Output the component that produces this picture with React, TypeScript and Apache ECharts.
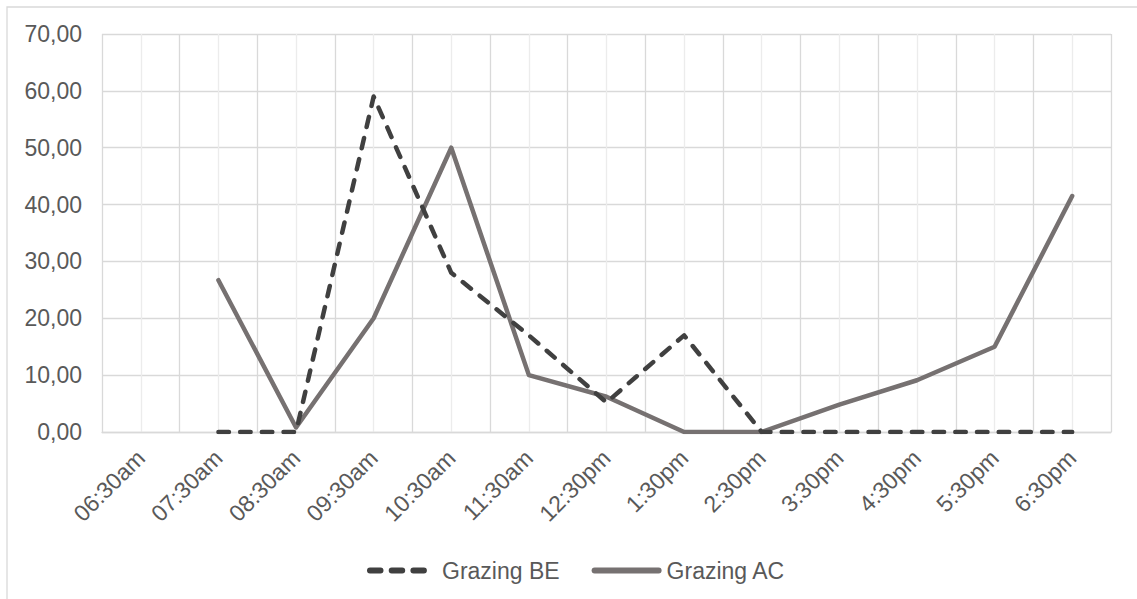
import React, { useEffect, useRef } from "react";
import * as echarts from "echarts";

// Time slots along the x axis
const timeSlots = [
  "06:30am", "07:30am", "08:30am", "09:30am", "10:30am", "11:30am",
  "12:30pm", "1:30pm", "2:30pm", "3:30pm", "4:30pm", "5:30pm", "6:30pm",
];

// Grazing observations per slot (no reading at 06:30am)
const grazingBE = [null, 0, 0, 59, 28, 17, 5.2, 17, 0, 0, 0, 0, 0];
const grazingAC = [null, 26.7, 0.8, 20, 50, 10, 6.2, 0, 0, 4.8, 9.1, 15, 41.5];

// Value axis range
const yMin = 0;
const yMax = 70;
const yStep = 10;

const FONT = "'Liberation Sans', Arial, sans-serif";
const FONT_SIZE = 23;
const LABEL_COLOR = "#595959";
const GRID_MAJOR = "#d9d9d9";
const GRID_MINOR = "#ececec";

export default function App() {
  const ref = useRef<HTMLDivElement>(null);

  useEffect(() => {
    if (!ref.current) return;
    const chart = echarts.init(ref.current, undefined, { renderer: "svg" });
    chart.setOption({
      animation: false,
      backgroundColor: "#ffffff",
      textStyle: { fontFamily: FONT },
      graphic: [
        {
          type: "rect",
          shape: { x: 7, y: 7, width: 1140, height: 600 },
          style: { fill: "none", stroke: GRID_MAJOR, lineWidth: 1.3 },
          silent: true,
        },
      ],
      grid: { left: 102, right: 26, top: 34, bottom: 167 },
      legend: {
        left: 362,
        top: 554,
        itemWidth: 64,
        itemHeight: 14,
        itemGap: 32,
        itemStyle: { opacity: 0 },
        lineStyle: { width: 6 },
        textStyle: { fontFamily: FONT, fontSize: FONT_SIZE, color: LABEL_COLOR, padding: [0, 0, 0, 3] },
        data: ["Grazing BE", "Grazing AC"],
      },
      xAxis: [
        {
          type: "category",
          data: timeSlots,
          boundaryGap: true,
          axisLine: { show: true, lineStyle: { color: GRID_MAJOR, width: 1.3 } },
          axisTick: { show: false },
          axisLabel: {
            interval: 0,
            rotate: 45,
            margin: 22,
            fontFamily: FONT,
            fontSize: FONT_SIZE,
            color: LABEL_COLOR,
          },
          splitLine: { show: true, lineStyle: { color: GRID_MAJOR, width: 1.3 } },
        },
        {
          // helper axis: light lines through each slot's centre
          type: "value",
          min: 0,
          max: timeSlots.length,
          interval: 1,
          show: true,
          position: "top",
          axisLine: { show: false },
          axisTick: { show: false },
          axisLabel: { show: false },
          splitLine: { show: false },
          minorTick: { show: false, splitNumber: 2 },
          minorSplitLine: { show: true, lineStyle: { color: GRID_MINOR, width: 1.3 } },
        },
      ],
      yAxis: {
        type: "value",
        min: yMin,
        max: yMax,
        interval: yStep,
        axisLine: { show: false },
        axisTick: { show: false },
        axisLabel: {
          margin: 20,
          fontFamily: FONT,
          fontSize: FONT_SIZE,
          color: LABEL_COLOR,
          formatter: (v: number) => v.toFixed(2).replace(".", ","),
        },
        splitLine: { show: true, lineStyle: { color: GRID_MAJOR, width: 1.3 } },
      },
      series: [
        {
          name: "Grazing BE",
          type: "line",
          xAxisIndex: 0,
          data: grazingBE,
          symbol: "none",
          connectNulls: false,
          color: "#404040",
          lineStyle: { color: "#404040", width: 4.5, type: [10.5, 11.2], cap: "round", join: "round" },
          z: 3,
        },
        {
          name: "Grazing AC",
          type: "line",
          xAxisIndex: 0,
          data: grazingAC,
          symbol: "none",
          connectNulls: false,
          color: "#767171",
          lineStyle: { color: "#767171", width: 4.5, cap: "round", join: "round" },
          z: 2,
        },
      ],
    });
    return () => chart.dispose();
  }, []);

  return (
    <div
      ref={ref}
      style={{ position: "fixed", left: 0, top: 0, width: 1137, height: 599 }}
    />
  );
}
